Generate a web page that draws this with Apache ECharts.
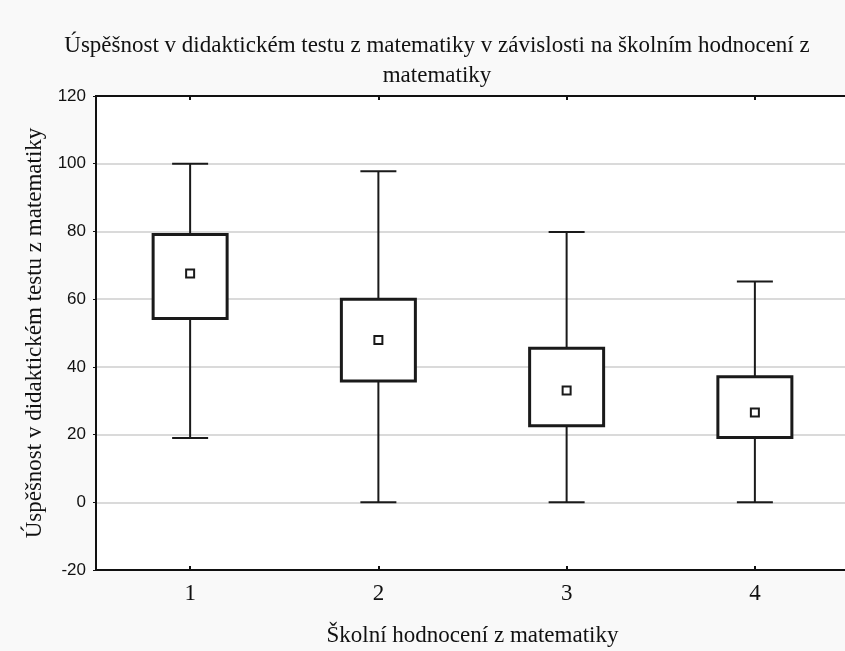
<!DOCTYPE html>
<html>
<head>
<meta charset="utf-8">
<script src="https://cdn.jsdelivr.net/npm/echarts@6/dist/echarts.min.js"></script>
<style>html,body{margin:0;padding:0;background:#f9f9f9;overflow:hidden;}#c{width:849px;height:651px;}</style>
</head>
<body>
<div id="c"></div>
<script>
const categories = ['1', '2', '3', '4'];
const whiskerLow = [19, 0, 0, 0];
const q1 = [54.3, 35.8, 22.6, 19.1];
const q3 = [79.1, 60.0, 45.5, 37.1];
const whiskerHigh = [100, 97.8, 79.8, 65.2];
const means = [67.6, 47.9, 33.0, 26.5];
const yTicks = { min: -20, max: 120, interval: 20 };

const boxData = categories.map((c, i) => [i, whiskerLow[i], q1[i], q3[i], whiskerHigh[i]]);
const meanData = categories.map((c, i) => [i, means[i]]);

const serif = 'Liberation Serif, Times New Roman, serif';
const sans = 'Liberation Sans, Arial, sans-serif';

const chart = echarts.init(document.getElementById('c'));
chart.setOption({
  backgroundColor: '#f9f9f9',
  animation: false,
  title: {
    text: 'Úspěšnost v didaktickém testu z matematiky v závislosti na školním hodnocení z\nmatematiky',
    left: 432,
    textAlign: 'center',
    top: 26,
    textStyle: { fontFamily: serif, fontSize: 23, fontWeight: 'normal', color: '#111', lineHeight: 30 }
  },
  grid: {
    left: 96, top: 96, right: 0, bottom: 81,
    outerBoundsMode: 'none',
    containLabel: false,
    show: true, backgroundColor: '#ffffff', borderColor: '#111', borderWidth: 2
  },
  xAxis: [{
    type: 'category',
    data: categories,
    position: 'bottom',
    boundaryGap: true,
    name: 'Školní hodnocení z matematiky',
    nameLocation: 'middle',
    nameGap: 54,
    nameTextStyle: { fontFamily: serif, fontSize: 23, color: '#111' },
    axisLine: { show: true, onZero: false, lineStyle: { color: '#111', width: 2 } },
    axisTick: { show: true, alignWithLabel: true, inside: true, length: 4, lineStyle: { color: '#111', width: 2 } },
    axisLabel: { fontFamily: serif, fontSize: 23, color: '#111', margin: 12 },
    splitLine: { show: false }
  }, {
    type: 'category',
    data: categories,
    position: 'top',
    boundaryGap: true,
    axisLine: { show: true, onZero: false, lineStyle: { color: '#111', width: 2 } },
    axisTick: { show: true, alignWithLabel: true, inside: true, length: 4, lineStyle: { color: '#111', width: 2 } },
    axisLabel: { show: false },
    splitLine: { show: false }
  }],
  yAxis: {
    type: 'value',
    min: yTicks.min, max: yTicks.max, interval: yTicks.interval,
    name: 'Úspěšnost v didaktickém testu z matematiky',
    nameLocation: 'middle',
    nameGap: 49,
    nameRotate: 90,
    nameTextStyle: { fontFamily: serif, fontSize: 23, color: '#111' },
    axisLine: { show: true, onZero: false, lineStyle: { color: '#111', width: 2 } },
    axisTick: { show: true, length: 3, lineStyle: { color: '#111', width: 1 } },
    axisLabel: { fontFamily: sans, fontSize: 17, color: '#111', margin: 10 },
    splitLine: { show: true, lineStyle: { color: '#dadada', width: 2 } }
  },
  series: [{
    type: 'custom',
    data: boxData,
    encode: { x: 0, y: [1, 2, 3, 4] },
    z: 3,
    renderItem: function (params, api) {
      const x = api.value(0);
      const pLow = api.coord([x, api.value(1)]);
      const pQ1 = api.coord([x, api.value(2)]);
      const pQ3 = api.coord([x, api.value(3)]);
      const pHigh = api.coord([x, api.value(4)]);
      const cx = pLow[0];
      const boxW = 74, capW = 36;
      const lineStyle = { stroke: '#1a1a1a', lineWidth: 2 };
      return {
        type: 'group',
        children: [
          { type: 'line', shape: { x1: cx, y1: pHigh[1], x2: cx, y2: pLow[1] }, style: lineStyle },
          { type: 'line', shape: { x1: cx - capW / 2, y1: pHigh[1], x2: cx + capW / 2, y2: pHigh[1] }, style: lineStyle },
          { type: 'line', shape: { x1: cx - capW / 2, y1: pLow[1], x2: cx + capW / 2, y2: pLow[1] }, style: lineStyle },
          { type: 'rect', shape: { x: cx - boxW / 2, y: pQ3[1], width: boxW, height: pQ1[1] - pQ3[1] },
            style: { fill: '#ffffff', stroke: '#1a1a1a', lineWidth: 3 } }
        ]
      };
    }
  }, {
    type: 'scatter',
    data: meanData,
    symbol: 'rect',
    symbolSize: 8,
    z: 4,
    itemStyle: { color: '#ffffff', borderColor: '#1a1a1a', borderWidth: 2, opacity: 1 }
  }]
});
</script>
</body>
</html>
